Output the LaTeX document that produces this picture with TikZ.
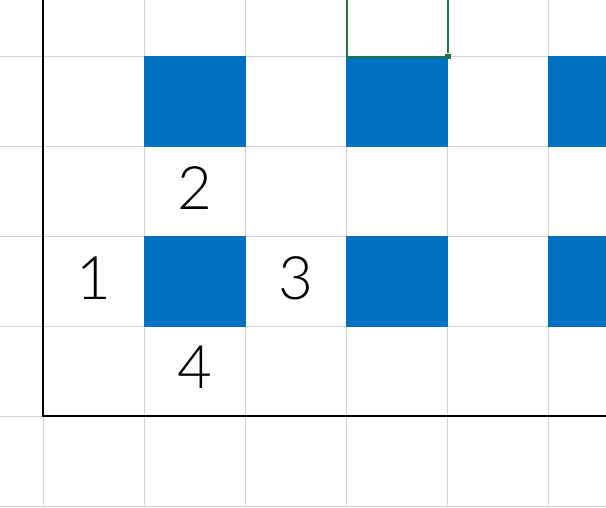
\documentclass[tikz,border=0pt]{standalone}
\usepackage{fontspec}
\setmainfont{Lato}[UprightFont=* Light]
\definecolor{cellblue}{HTML}{0070C0}
\definecolor{gridgray}{HTML}{D4D4D4}
\definecolor{selgreen}{HTML}{217346}
\begin{document}
\begin{tikzpicture}[x=1pt, y=-1pt,
                    gridline/.style={draw = gridgray, line width=1pt},
                    axisline/.style={draw = black, line width=2pt},
                    filled/.style={fill = cellblue, draw = none},
                    digit/.style={anchor=base, inner sep=0pt, font=\fontsize{60}{60}\selectfont}]
    \useasboundingbox[fill = white] (0,0) rectangle (606,507);
    % grid
    \foreach \x in {43,144,245,346,447,548}
        \draw[gridline] (\x,0) -- (\x,507);
    \foreach \y in {56,146,236,326,416,506}
        \draw[gridline] (0,\y) -- (606,\y);
    % blue cells
    \foreach \x in {144,346,548}
        \foreach \y in {56,236}
            \fill[filled] (\x,\y) rectangle ++(101.5,90.5);
    % axes
    \coordinate (corner) at (43,416);
    \coordinate (top) at (43,0);
    \coordinate (right) at (606,416);
    \draw[axisline] (top) -- (corner) -- (right);
    % selected cell
    \draw[selgreen, line width=2pt] (444,56.5) -- (346.5,56.5) -- (346.5,0);
    \draw[selgreen, line width=2pt] (448,0) -- (448,53);
    \fill[selgreen] (445,53.5) rectangle (450.5,59);
    % numbers
    \node[digit] (one)   at (93.5,299)  {1};
    \node[digit] (two)   at (194.5,209) {2};
    \node[digit] (three) at (295.5,299) {3};
    \node[digit] (four)  at (194.5,388) {4};
\end{tikzpicture}
\end{document}
